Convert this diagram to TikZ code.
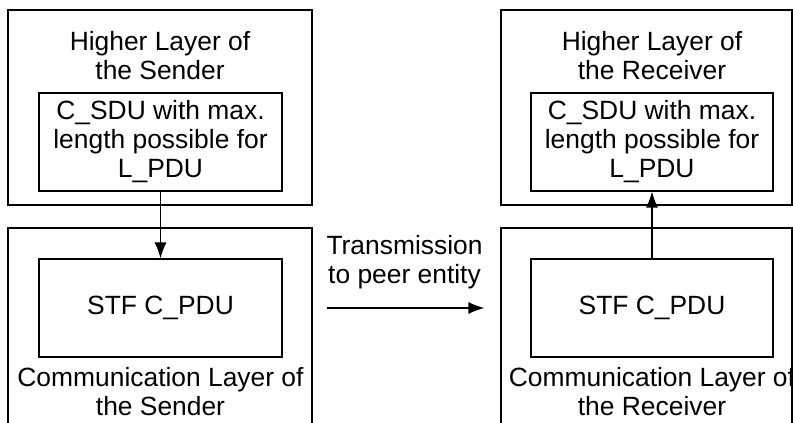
\documentclass[tikz,border=0pt]{standalone}
\usepackage{fontspec}
\setmainfont{Liberation Sans}
\usetikzlibrary{positioning,arrows.meta}

\tikzset{
  layer/.style={draw,line width=0.6pt,inner sep=0pt},
  pdu/.style={draw,line width=0.6pt,align=center,minimum width=121.5pt,minimum height=49pt,inner sep=0pt},
  caption/.style={align=center,inner sep=0pt},
  arr/.style={-{Latex[length=8pt,width=6pt]},line width=0.6pt}
}

\begin{document}
\begin{tikzpicture}[x=0.5pt,y=0.5pt,font=\fontsize{13.2}{14.5}\selectfont]
\useasboundingbox (0,0) rectangle (793,423);

% sender side
\node[layer,minimum width=152pt,minimum height=97.5pt] (hlS) at (160,315.5) {};
\node[caption,below=11pt of hlS.north] (hlStxt) {Higher Layer of\\the Sender};
\node[pdu] (sC) at (160.5,281) {C\_SDU with max.\\length possible for\\L\_PDU};

\node[layer,minimum width=152pt,minimum height=111pt] (clS) at (160,84) {};
\node[pdu] (sP) at (160.5,115) {STF C\_PDU};
\node[caption,below=4.5pt of sP.south] (clStxt) {Communication Layer of\\the Sender};

% receiver side
\node[layer,minimum width=145.5pt,minimum height=97.5pt] (hlR) at (646.5,315.5) {};
\node[caption,below=11pt of hlR.north,xshift=2.75pt] (hlRtxt) {Higher Layer of\\the Receiver};
\node[pdu,minimum width=121pt] (rC) at (652,281) {C\_SDU with max.\\length possible for\\L\_PDU};

\node[layer,minimum width=145.5pt,minimum height=111pt] (clR) at (646.5,84) {};
\node[pdu,minimum width=121pt] (rP) at (652,115) {STF C\_PDU};
\node[caption,below=4.5pt of rP.south] (clRtxt) {Communication Layer of\\the Receiver};

% connectors
\draw[arr] (sC) -- (sP);
\draw[arr] (rP) -- (rC);
\draw[arr,shorten <=22pt,shorten >=23pt] (sP.east) -- node[caption,midway,above=9pt,xshift=-1pt] (tx) {Transmission\\to peer entity} (rP.west);
\end{tikzpicture}
\end{document}
